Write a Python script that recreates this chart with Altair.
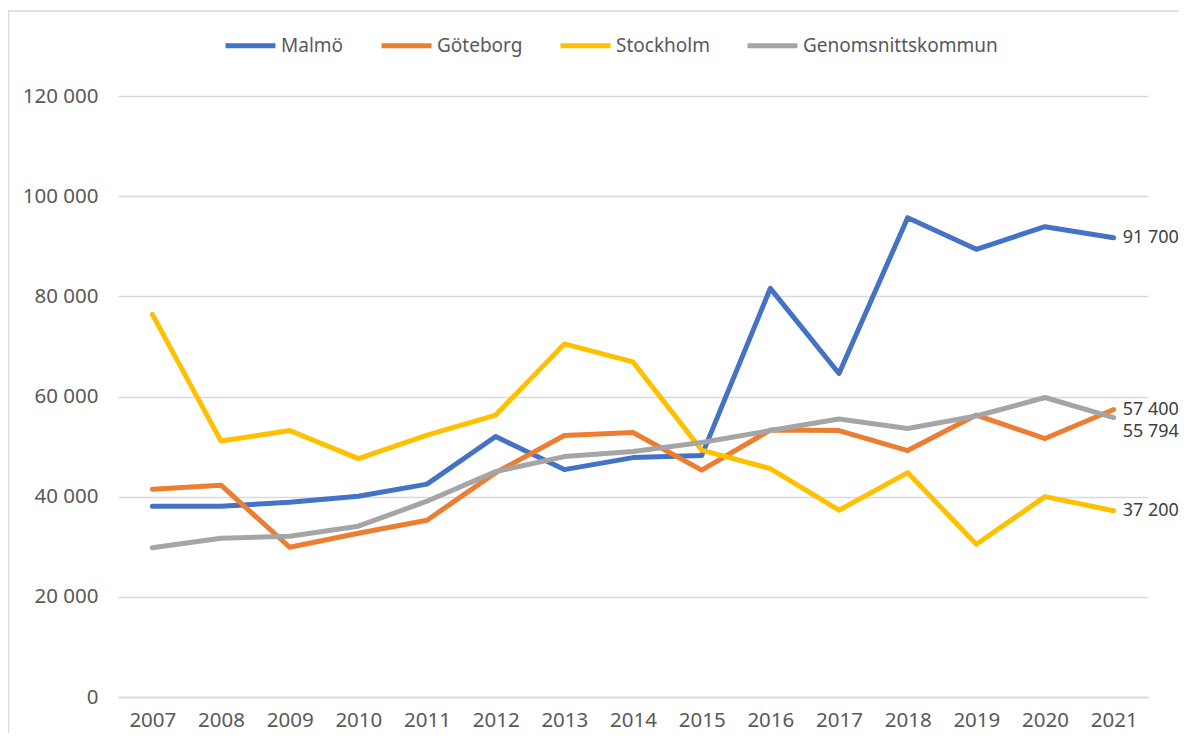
import altair as alt
import pandas as pd

years = [str(y) for y in range(2007, 2022)]
series = ["Malmö", "Göteborg", "Stockholm", "Genomsnittskommun"]
malmo = [38100, 38100, 38900, 40100, 42500, 52000, 45400, 47800, 48200, 81600, 64600, 95700, 89400, 93900, 91700]
goteborg = [41500, 42300, 29900, 32700, 35300, 44800, 52200, 52800, 45300, 53300, 53200, 49200, 56300, 51600, 57400]
stockholm = [76400, 51100, 53200, 47600, 52300, 56300, 70500, 66900, 49300, 45600, 37300, 44800, 30500, 40000, 37200]
snitt = [29800, 31700, 32100, 34100, 39100, 45000, 48000, 49000, 50800, 53200, 55500, 53600, 56100, 59800, 55794]
colors = ["#4472C4", "#ED7D31", "#FFC000", "#A5A5A5"]

rows = []
for name, vals in zip(series, [malmo, goteborg, stockholm, snitt]):
    for y, v in zip(years, vals):
        rows.append({"year": y, "series": name, "value": v})
df = pd.DataFrame(rows)

FONT = "Noto Sans"
FS_AX = 20.5
FS_LEG = 19
FS_LAB = 18

color = alt.Color(
    "series:N",
    scale=alt.Scale(domain=series, range=colors),
    sort=series,
    legend=alt.Legend(
        title=None,
        orient="none",
        direction="horizontal",
        legendX=105,
        legendY=-78,
        symbolType="stroke",
        symbolSize=2500,
        symbolStrokeWidth=5,
        labelOffset=3,
        columnPadding=27,
        labelFont=FONT,
        labelFontSize=FS_LEG,
        labelColor="#595959",
        labelLimit=400,
    ),
)

base = alt.Chart(df)

lines = base.mark_line(strokeWidth=5, strokeCap="round", strokeJoin="round").encode(
    x=alt.X(
        "year:O",
        sort=years,
        scale=alt.Scale(type="point", padding=0.5),
        axis=alt.Axis(
            title=None,
            labelAngle=0,
            ticks=False,
            domain=True,
            domainColor="#d9d9d9",
            domainWidth=1.5,
            labelPadding=13,
            labelFont=FONT,
            labelFontSize=FS_AX,
            labelColor="#595959",
        ),
    ),
    y=alt.Y(
        "value:Q",
        scale=alt.Scale(domain=[0, 120000], nice=False),
        axis=alt.Axis(
            title=None,
            values=[0, 20000, 40000, 60000, 80000, 100000, 120000],
            labelExpr="replace(format(datum.value, ','), ',', ' ')",
            ticks=False,
            domain=False,
            gridColor="#d9d9d9",
            gridWidth=1.5,
            labelPadding=20,
            labelFont=FONT,
            labelFontSize=FS_AX,
            labelColor="#595959",
        ),
    ),
    color=color,
)

last = base.transform_filter(alt.datum.year == "2021").transform_calculate(
    lab="replace(format(datum.value, ','), ',', ' ')"
)

labels_main = last.transform_filter(alt.datum.series != "Genomsnittskommun").mark_text(
    align="left", baseline="middle", dx=9, font=FONT, fontSize=FS_LAB, color="#404040"
).encode(x=alt.X("year:O", sort=years), y="value:Q", text="lab:N")

labels_snitt = last.transform_filter(alt.datum.series == "Genomsnittskommun").mark_text(
    align="left", baseline="middle", dx=9, dy=14, font=FONT, fontSize=FS_LAB, color="#404040"
).encode(x=alt.X("year:O", sort=years), y="value:Q", text="lab:N")

border = alt.Chart(alt.Data(values=[{"a": 1}])).mark_rect(
    fill=None, stroke="#d9d9d9", strokeWidth=1.5
).encode(
    x=alt.value(-109.5), x2=alt.value(1100), y=alt.value(-85), y2=alt.value(700)
)

chart = alt.layer(border, lines, labels_main, labels_snitt).properties(
    width=1030,
    height=601,
    autosize="none",
    padding={"left": 110, "top": 88, "right": 31, "bottom": 36},
).configure_view(stroke=None)

chart.save("out.html", embed_options={"renderer": "svg", "actions": False})
